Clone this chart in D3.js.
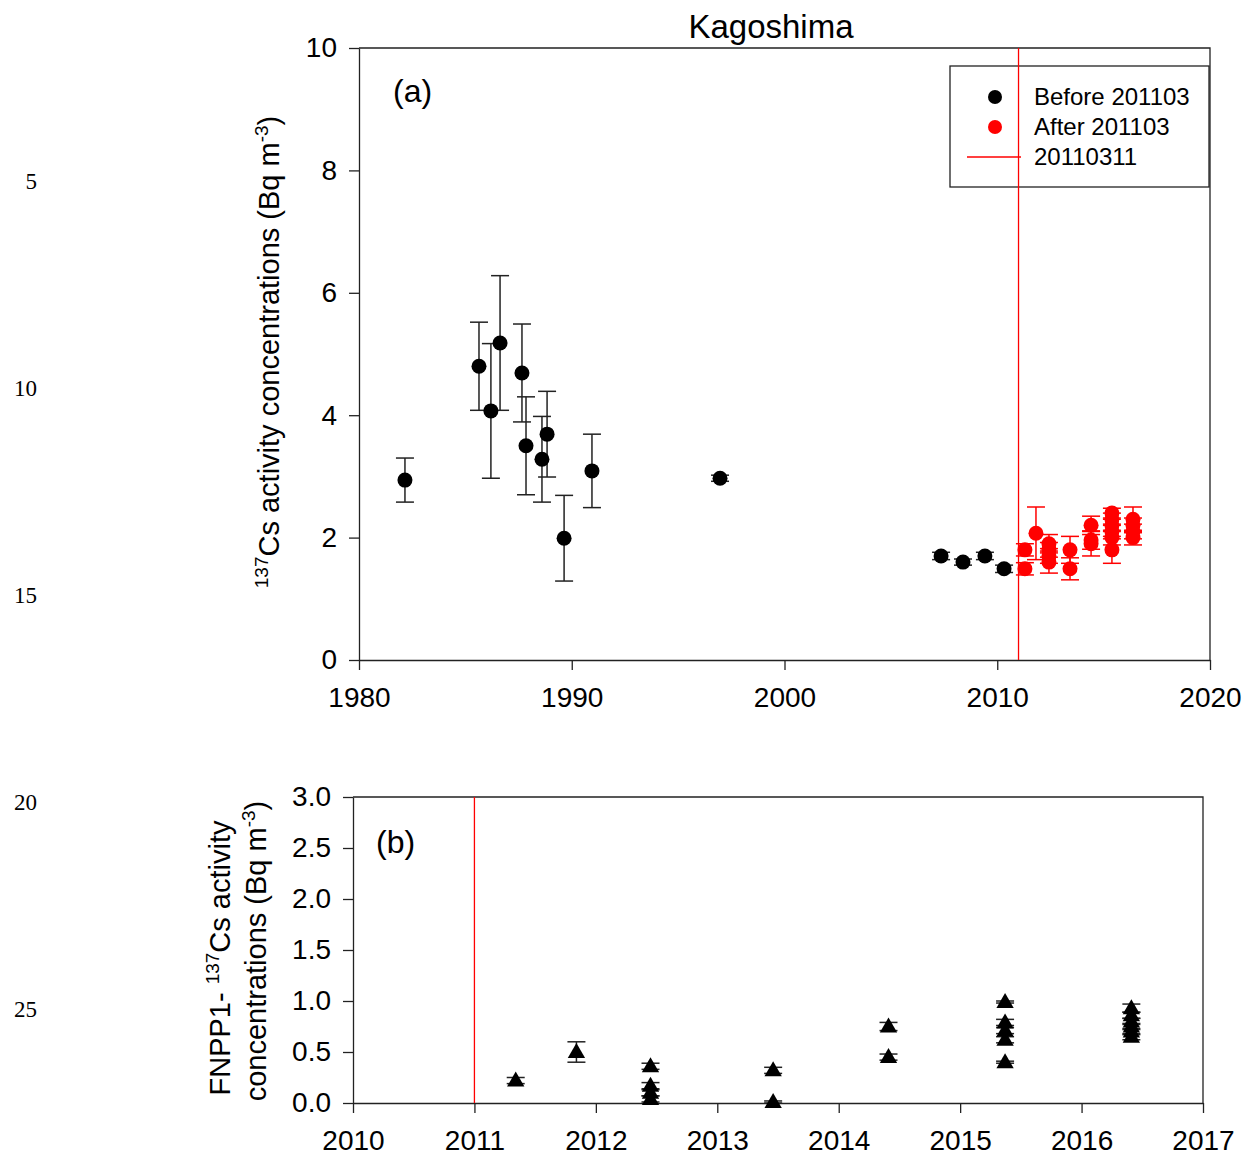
<!DOCTYPE html>
<html lang="en">
    <head>
        <meta charset="utf-8">
        <title>Kagoshima 137Cs</title>
        <script src="https://d3js.org/d3.v7.min.js" charset="utf-8"></script>
        <style>
            body { margin: 0; background: #fff; }
            text { font-family: "Liberation Sans", Arial, sans-serif; fill: #000; }
        </style>
    </head>
    <body>
        <script type="text/javascript">

            // page size
            var w = 1245;
            var h = 1159;

            // panel (a): before March 2011 (black)
            var beforeYear = [1982.16, 1985.64, 1986.2, 1986.63, 1987.66, 1987.85, 1988.6, 1988.84, 1989.64, 1990.95, 1996.97, 2007.36, 2008.39, 2009.42, 2010.32];
            var beforeVal  = [2.94, 4.8, 4.07, 5.18, 4.69, 3.5, 3.28, 3.69, 1.99, 3.09, 2.97, 1.7, 1.6, 1.7, 1.49];
            var beforeErr  = [0.36, 0.72, 1.1, 1.1, 0.8, 0.8, 0.7, 0.7, 0.7, 0.6, 0.05, 0.06, 0.05, 0.06, 0.06];

            // panel (a): after March 2011 (red)
            var afterYear = [2011.3, 2011.3, 2011.82, 2012.43, 2012.43, 2012.43, 2012.43, 2013.42, 2013.42, 2014.41, 2014.41, 2014.41, 2015.39, 2015.39, 2015.39, 2015.39, 2015.39, 2015.39, 2016.38, 2016.38, 2016.38, 2016.38];
            var afterVal  = [1.8, 1.49, 2.07, 1.9, 1.8, 1.7, 1.6, 1.8, 1.49, 2.2, 1.96, 1.9, 2.4, 2.3, 2.2, 2.1, 2.0, 1.8, 2.3, 2.2, 2.1, 2.0];
            var afterErr  = [0.1, 0.1, 0.43, 0.15, 0.12, 0.12, 0.18, 0.22, 0.18, 0.15, 0.15, 0.2, 0.08, 0.1, 0.1, 0.12, 0.12, 0.22, 0.2, 0.12, 0.12, 0.12];

            // panel (b): FNPP1-derived
            var fnppYear = [2011.34, 2011.84, 2012.45, 2012.45, 2012.45, 2012.45, 2013.46, 2013.46, 2014.41, 2014.41, 2015.37, 2015.37, 2015.37, 2015.37, 2015.37, 2016.41, 2016.41, 2016.41, 2016.41, 2016.41, 2016.41];
            var fnppVal  = [0.22, 0.5, 0.36, 0.17, 0.1, 0.04, 0.32, 0.01, 0.75, 0.45, 0.99, 0.79, 0.71, 0.62, 0.4, 0.93, 0.86, 0.8, 0.75, 0.7, 0.65];
            var fnppErr  = [0.03, 0.1, 0.03, 0.03, 0.03, 0.03, 0.03, 0.01, 0.04, 0.03, 0.01, 0.03, 0.03, 0.03, 0.01, 0.04, 0.03, 0.03, 0.03, 0.03, 0.03];

            var quakeYear = 2011;

            var aXTicks = [1980, 1990, 2000, 2010, 2020];
            var aYTicks = [0, 2, 4, 6, 8, 10];
            var bXTicks = [2010, 2011, 2012, 2013, 2014, 2015, 2016, 2017];
            var bYTicks = [0, 0.5, 1.0, 1.5, 2.0, 2.5, 3.0];

            var lineNumbers = [5, 10, 15, 20, 25];

            var legendLabels = ["Before 201103", "After 201103", "20110311"];

            var svg = d3.select("body")
                .append("svg")
                .attr("width", w)
                .attr("height", h);

            // margin line numbers
            svg.selectAll("text.lineno")
                .data(lineNumbers)
                .enter()
                .append("text")
                .attr("class", "lineno")
                .attr("x", 37)
                .attr("y", function(d, i) { return 189 + i * 207; })
                .attr("text-anchor", "end")
                .style("font-family", "'Liberation Serif', 'Times New Roman', serif")
                .style("font-size", "23px")
                .text(function(d) { return d; });

            // helper to draw frame + axes of a panel
            var drawFrame = function (g, x, y, xt, yt, fmt) {
                var x0 = x.range()[0], x1 = x.range()[1];
                var y0 = y.range()[0], y1 = y.range()[1];

                // top and right border
                g.append("path")
                    .attr("d", "M" + x0 + "," + y1 + "H" + x1 + "V" + y0)
                    .attr("fill", "none")
                    .attr("stroke", "#222")
                    .attr("stroke-width", 1.3);

                var ax = g.append("g")
                    .attr("transform", "translate(0," + y0 + ")")
                    .call(d3.axisBottom(x).tickValues(xt).tickFormat(d3.format("d")).tickSize(10).tickSizeOuter(0).tickPadding(17));
                var ay = g.append("g")
                    .attr("transform", "translate(" + x0 + ",0)")
                    .call(d3.axisLeft(y).tickValues(yt).tickFormat(fmt).tickSize(10).tickSizeOuter(0).tickPadding(12));

                [ax, ay].forEach(function (a) {
                    a.select(".domain").attr("stroke", "#222").attr("stroke-width", 1.3);
                    a.selectAll(".tick line").attr("stroke", "#222").attr("stroke-width", 1.3);
                    a.selectAll(".tick text")
                        .style("font-family", "'Liberation Sans', Arial, sans-serif")
                        .style("font-size", "28px")
                        .attr("fill", "#000");
                });
            };

            // error bars helper
            var drawErr = function (g, xs, ys, err, x, y, color, cap) {
                var idx = d3.range(xs.length);
                var eg = g.append("g")
                    .attr("stroke", color)
                    .attr("stroke-width", 1.5);
                eg.selectAll("line.v")
                    .data(idx)
                    .enter()
                    .append("line")
                    .attr("x1", function(i) { return x(xs[i]); })
                    .attr("x2", function(i) { return x(xs[i]); })
                    .attr("y1", function(i) { return y(ys[i] + err[i]); })
                    .attr("y2", function(i) { return y(ys[i] - err[i]); });
                [1, -1].forEach(function (s) {
                    eg.selectAll("line.c" + s)
                        .data(idx)
                        .enter()
                        .append("line")
                        .attr("x1", function(i) { return x(xs[i]) - cap; })
                        .attr("x2", function(i) { return x(xs[i]) + cap; })
                        .attr("y1", function(i) { return y(ys[i] + s * err[i]); })
                        .attr("y2", function(i) { return y(ys[i] + s * err[i]); });
                });
            };

            // ---------- panel (a)
            var xa = d3.scaleLinear().domain([1980, 2020]).range([359, 1210]);
            var ya = d3.scaleLinear().domain([0, 10]).range([660, 48]);
            var ga = svg.append("g");

            drawFrame(ga, xa, ya, aXTicks, aYTicks, d3.format("d"));

            ga.append("text")
                .attr("x", 771)
                .attr("y", 38)
                .attr("text-anchor", "middle")
                .style("font-size", "33px")
                .text("Kagoshima");

            ga.append("text")
                .attr("x", 393)
                .attr("y", 102)
                .style("font-size", "32px")
                .text("(a)");

            var la = ga.append("text")
                .attr("transform", "translate(279,352) rotate(-90)")
                .attr("text-anchor", "middle")
                .style("font-size", "29px");
            la.append("tspan").attr("dy", -11).style("font-size", "19px").text("137");
            la.append("tspan").attr("dy", 11).text("Cs activity concentrations (Bq m");
            la.append("tspan").attr("dy", -11).style("font-size", "19px").text("-3");
            la.append("tspan").attr("dy", 11).text(")");

            drawErr(ga, beforeYear, beforeVal, beforeErr, xa, ya, "#222", 9);
            drawErr(ga, afterYear, afterVal, afterErr, xa, ya, "#ff0000", 9);

            ga.selectAll("circle.before")
                .data(d3.range(beforeYear.length))
                .enter()
                .append("circle")
                .attr("cx", function(i) { return xa(beforeYear[i]); })
                .attr("cy", function(i) { return ya(beforeVal[i]); })
                .attr("r", 7.5)
                .attr("fill", "#000");

            ga.selectAll("circle.after")
                .data(d3.range(afterYear.length))
                .enter()
                .append("circle")
                .attr("cx", function(i) { return xa(afterYear[i]); })
                .attr("cy", function(i) { return ya(afterVal[i]); })
                .attr("r", 7.5)
                .attr("fill", "#ff0000");

            // legend
            var lg = ga.append("g");
            lg.append("rect")
                .attr("x", 950).attr("y", 66)
                .attr("width", 259).attr("height", 121)
                .attr("fill", "#fff")
                .attr("stroke", "#222")
                .attr("stroke-width", 1.3);
            lg.append("circle").attr("cx", 995).attr("cy", 97).attr("r", 7).attr("fill", "#000");
            lg.append("circle").attr("cx", 995).attr("cy", 127).attr("r", 7).attr("fill", "#ff0000");
            lg.append("line")
                .attr("x1", 967).attr("x2", 1021)
                .attr("y1", 157).attr("y2", 157)
                .attr("stroke", "#ff0000").attr("stroke-width", 1.3);
            lg.selectAll("text")
                .data(legendLabels)
                .enter()
                .append("text")
                .attr("x", 1034)
                .attr("y", function(d, i) { return 105 + i * 30; })
                .style("font-size", "24px")
                .text(function(d) { return d; });

            // 2011-03-11 line (drawn over legend)
            ga.append("line")
                .attr("x1", xa(quakeYear)).attr("x2", xa(quakeYear))
                .attr("y1", ya(0)).attr("y2", ya(10))
                .attr("stroke", "#ff0000").attr("stroke-width", 1.3);

            // ---------- panel (b)
            var xb = d3.scaleLinear().domain([2010, 2017]).range([353, 1203]);
            var yb = d3.scaleLinear().domain([0, 3]).range([1103, 797]);
            var gb = svg.append("g");

            drawFrame(gb, xb, yb, bXTicks, bYTicks, d3.format(".1f"));

            gb.append("text")
                .attr("x", 376)
                .attr("y", 853)
                .style("font-size", "32px")
                .text("(b)");

            var lb1 = gb.append("text")
                .attr("transform", "translate(230,958) rotate(-90)")
                .attr("text-anchor", "middle")
                .style("font-size", "29px");
            lb1.append("tspan").text("FNPP1- ");
            lb1.append("tspan").attr("dy", -11).style("font-size", "19px").text("137");
            lb1.append("tspan").attr("dy", 11).text("Cs activity");

            var lb2 = gb.append("text")
                .attr("transform", "translate(266,951) rotate(-90)")
                .attr("text-anchor", "middle")
                .style("font-size", "29px");
            lb2.append("tspan").text("concentrations (Bq m");
            lb2.append("tspan").attr("dy", -11).style("font-size", "19px").text("-3");
            lb2.append("tspan").attr("dy", 11).text(")");

            gb.append("line")
                .attr("x1", xb(quakeYear)).attr("x2", xb(quakeYear))
                .attr("y1", yb(0)).attr("y2", yb(3))
                .attr("stroke", "#ff0000").attr("stroke-width", 1.3);

            drawErr(gb, fnppYear, fnppVal, fnppErr, xb, yb, "#222", 9);

            gb.selectAll("path.tri")
                .data(d3.range(fnppYear.length))
                .enter()
                .append("path")
                .attr("d", d3.symbol().type(d3.symbolTriangle).size(130))
                .attr("transform", function(i) { return "translate(" + xb(fnppYear[i]) + "," + (yb(fnppVal[i]) + 1) + ")"; })
                .attr("fill", "#000");

        </script>
    </body>
</html>
